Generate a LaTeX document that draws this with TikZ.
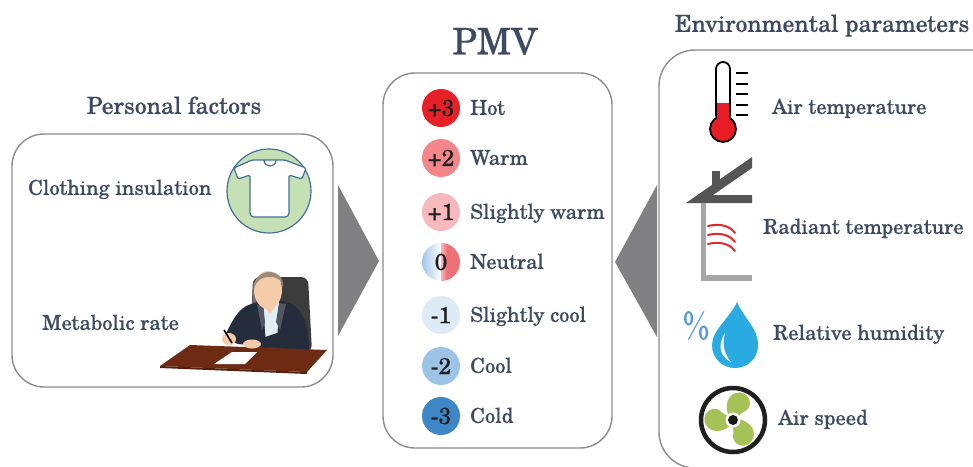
\documentclass[tikz,border=0pt]{standalone}
\usepackage{fontspec}
\setmainfont{TeX Gyre Schola}[FakeBold=0.5]
\definecolor{txt}{RGB}{60,74,98}
\definecolor{panelgray}{RGB}{140,140,140}
\definecolor{wedgegray}{RGB}{128,128,130}
\definecolor{shirtgreen}{RGB}{197,224,180}
\definecolor{shirtblue}{RGB}{65,113,156}
\definecolor{pmvhot}{RGB}{232,32,40}
\definecolor{pmvwarm}{RGB}{242,134,138}
\definecolor{pmvswarm}{RGB}{247,185,189}
\definecolor{pmvscool}{RGB}{221,235,247}
\definecolor{pmvcool}{RGB}{157,195,230}
\definecolor{pmvcold}{RGB}{62,134,198}
\definecolor{neutralred}{RGB}{240,112,120}
\definecolor{thermred}{RGB}{232,28,36}
\definecolor{roofgray}{RGB}{85,85,85}
\definecolor{wallgray}{RGB}{166,166,166}
\definecolor{wavered}{RGB}{225,40,45}
\definecolor{dropblue}{RGB}{41,171,226}
\definecolor{pctblue}{RGB}{91,155,213}
\definecolor{fangreen}{RGB}{164,194,86}
\definecolor{chaircol}{RGB}{60,60,60}
\definecolor{jacket}{RGB}{37,44,60}
\definecolor{skin}{RGB}{245,203,170}
\definecolor{hair}{RGB}{158,140,122}
\definecolor{deskcol}{RGB}{110,43,19}
\definecolor{shirtlight}{RGB}{225,238,244}
\begin{document}
\begin{tikzpicture}[x=1pt,y=-1pt,
  panel/.style={draw=panelgray, line width=1.4pt, rounded corners=32pt, fill=white, inner sep=0pt},
  title/.style={text=txt, font=\fontsize{23.5}{28}\selectfont, inner sep=0pt, anchor=mid, yshift=-5.5pt},
  lbl/.style={text=txt, font=\fontsize{20.5}{24}\selectfont, inner sep=0pt, anchor=mid west, yshift=-4.5pt},
  lvl/.style={circle, minimum size=38pt, inner sep=0pt, font=\fontsize{23}{26}\selectfont, text=black!88},
  wedge/.style={fill=wedgegray},
  blade/.style={fill=fangreen}
]
\clip (0,0) rectangle (973,466);
\useasboundingbox (0,0) rectangle (973,466);

% ---------- connecting wedges ----------
\coordinate (wl1) at (338,185);
\coordinate (wl2) at (338,336);
\coordinate (wltip) at (379,261);
\coordinate (wr1) at (657,185);
\coordinate (wr2) at (657,337);
\coordinate (wrtip) at (615,262);
\fill[wedge] (wl1) -- (wltip) -- (wl2) -- cycle;
\fill[wedge] (wr1) -- (wrtip) -- (wr2) -- cycle;

% ---------- panels ----------
\node[panel, minimum width=321pt, minimum height=253pt] (personal) at (172.5,260.5) {};
\node[panel, minimum width=229pt, minimum height=375pt] (pmv) at (497.5,260.5) {};
\node[panel, minimum width=356pt, minimum height=418pt, rounded corners=36pt] (env) at (837,259) {};

% ---------- titles ----------
\node[title] (personalT) at (174,106) {Personal factors};
\node[title, font=\fontsize{36.5}{42}\selectfont, yshift=-3.5pt] (pmvT) at (495,43) {PMV};
\node[title] (envT) at (822,24) {Environmental parameters};

% ---------- personal factors ----------
\node[lbl] (cloT) at (28,188) {Clothing insulation};
\node[lbl] (metT) at (42,323) {Metabolic rate};

% shirt icon
\begin{scope}[shift={(269,191)}]
  \draw[shirtblue, line width=1.2pt, fill=shirtgreen] (0,0) circle[radius=42];
  \draw[shirtblue, line width=1.2pt, fill=white, rounded corners=1.5pt]
    (-35,-23) -- (-17,-31) -- (16,-31) -- (37,-23) -- (33,-12) -- (20,-16)
    [rounded corners=4pt] -- (20,26) -- (-19,26) [rounded corners=1.5pt] -- (-19,-16) -- (-31,-12) -- cycle;
  \draw[shirtblue, line width=1.2pt] (-5,-31) .. controls (-5,-23) and (7,-23) .. (7,-31);
\end{scope}

% person at a desk
\fill[chaircol, rounded corners=7pt] (253,277) -- (308,277) -- (312,352) -- (250,352) -- cycle;
\fill[black!55] (253,283) -- (257,280) -- (257,350) -- (251,350) -- cycle;
\fill[jacket] (246,306) .. controls (236,312) and (230,325) .. (224,338) -- (238,344) -- (300,350) -- (309,350)
  .. controls (309,330) and (305,312) .. (292,304) -- (280,300) -- (262,300) -- cycle;
\fill[shirtlight] (263,302) -- (279,302) -- (277,344) -- (266,344) -- cycle;
\fill[skin] (262,294) -- (277,294) -- (276,305) -- (270,314) -- (264,305) -- cycle;
\fill[jacket!80] (279,303) -- (286,304) -- (280,330) -- (276,322) -- cycle;
\fill[jacket!80] (263,303) -- (257,305) -- (262,330) -- (265,322) -- cycle;
\fill[skin] (268,290) ellipse[x radius=14, y radius=19];
\fill[hair] (254,289) .. controls (252,268) and (285,265) .. (283,288) .. controls (282,281) and (279,277) .. (270,277)
  .. controls (261,277) and (256,281) .. (254,289) -- cycle;
\fill[jacket] (292,318) .. controls (300,326) and (302,336) .. (296,342) -- (262,349) -- (256,340) -- (286,330) -- cycle;
\fill[deskcol] (160,366) -- (190,345) -- (327,350) -- (307,372) -- cycle;
\fill[deskcol!75!black] (160,366) -- (307,372) -- (307,374) -- (160,368) -- cycle;
\fill[white] (214,364) -- (232,352) -- (257,352) -- (245,364) -- cycle;
\fill[skin] (229,339) ellipse[x radius=7, y radius=6];
\draw[black, line width=1.6pt] (224,330) -- (232,343);
\fill[skin] (252,344) ellipse[x radius=9, y radius=4.5];

% ---------- PMV scale ----------
\foreach \n/\yy/\num/\col/\lab in {p3/108/+3/pmvhot/Hot, p2/158/+2/pmvwarm/Warm, p1/212/+1/pmvswarm/Slightly warm,
    m1/315/-1/pmvscool/Slightly cool, m2/366/-2/pmvcool/Cool, m3/416/-3/pmvcold/Cold}{
  \node[lvl, fill=\col] (c\n) at (441,\yy) {\num};
  \node[lbl] (t\n) at (470,\yy) {\lab};
}
\begin{scope}
  \clip (441,262) circle[radius=19];
  \shade[left color=pmvcool, right color=white] (421,242) rectangle (441,282);
  \shade[left color=pmvswarm, right color=neutralred] (441,242) rectangle (447,282);
  \fill[neutralred] (447,242) rectangle (461,282);
\end{scope}
\node[lvl] (c0) at (441,262) {0};
\node[lbl] (t0) at (470,262) {Neutral};

% ---------- environmental parameters ----------
% thermometer
\draw[black, line width=1.8pt, fill=white, rounded corners=7pt] (716,62) rectangle (730,122);
\draw[black, line width=1.8pt, fill=thermred] (723,129) circle[radius=13];
\fill[thermred] (717.2,103) rectangle (728.8,124);
\foreach \ty in {73,84,94,105,115}{\draw[black, line width=2pt] (736,\ty) -- (748,\ty);}
\node[lbl] (airT) at (772,107) {Air temperature};

% house with radiant heat
\fill[roofgray] (686,203) -- (752,157) -- (752,168) -- (713,195) -- (752,195) -- (752,203) -- cycle;
\fill[roofgray] (712,171) rectangle (720,186);
\fill[wallgray] (701,203) rectangle (706,281);
\fill[wallgray] (701,275) rectangle (752,281);
\foreach \wy in {226,235,244}{
  \draw[wavered, line width=2pt, line cap=round] (708,\wy) .. controls (720,\wy-3) and (730,\wy) .. (735,\wy+7);
}
\node[lbl] (radT) at (763,227) {Radiant temperature};

% humidity drop
\node[text=pctblue, font=\sffamily\fontsize{36}{36}\selectfont, inner sep=0pt] (pct) at (697,326) {\%};
\fill[dropblue] (737,302) .. controls (745,320) and (758,328) .. (758,345) .. controls (758,358) and (748,368) .. (735,368)
  .. controls (722,368) and (712,358) .. (712,345) .. controls (712,330) and (730,318) .. (737,302) -- cycle;
\fill[white] (725,333) .. controls (717,345) and (720,357) .. (731,362) .. controls (724,354) and (722,344) .. (725,333) -- cycle;
\node[lbl] (humT) at (773,333) {Relative humidity};

% fan
\begin{scope}[shift={(733,420)}]
  \draw[black!88, line width=4.5pt] (0,0) circle[radius=32];
  \foreach \ang in {66,174,300}{
    \begin{scope}[rotate=\ang, scale=1.08]
      \fill[blade] (0,-3) .. controls (8,-14) and (22,-15) .. (26,-4) .. controls (29,5) and (18,13) .. (11,6)
        .. controls (7,3) and (3,3) .. (0,3) -- cycle;
    \end{scope}
  }
  \fill[white] (0,0) circle[radius=7.5];
  \fill[black!90] (0,0) circle[radius=5];
\end{scope}
\node[lbl] (spdT) at (778,418) {Air speed};
\end{tikzpicture}
\end{document}
